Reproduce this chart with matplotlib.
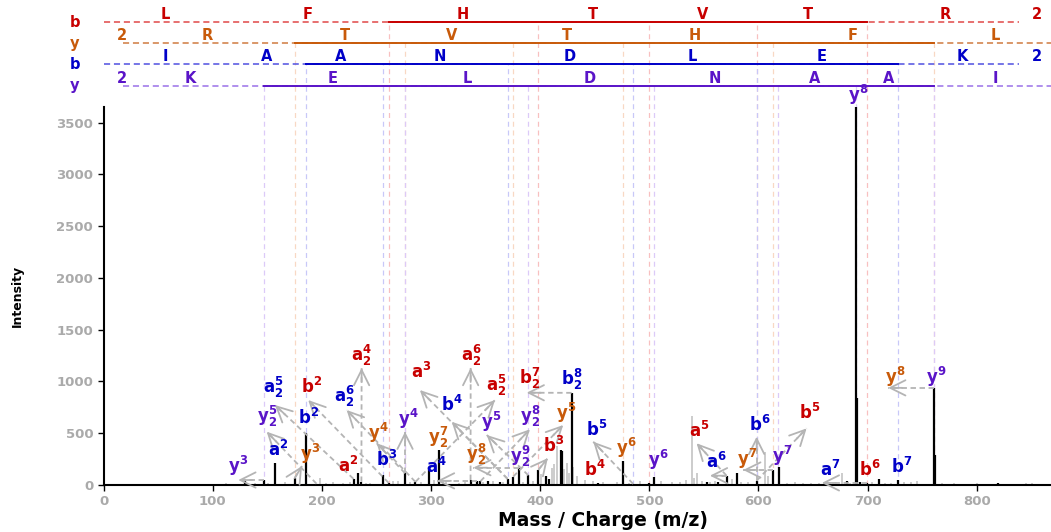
# annotated MS/MS spectrum of a cross-linked peptide pair
import matplotlib
matplotlib.use('Agg')
import matplotlib.pyplot as plt
import numpy as np

plt.rcParams['font.family'] = 'DejaVu Sans'
plt.rcParams['mathtext.fontset'] = 'dejavusans'

RED, ORANGE, BLUE, PURPLE = '#c80000', '#c85a0a', '#0000c8', '#5a14c8'
series_color = {'r': RED, 'o': ORANGE, 'b': BLUE, 'p': PURPLE}
dash_color = {'r': '#e04848', 'o': '#d07a40', 'b': '#5050e0', 'p': '#9a70e8'}
pale_color = {'r': '#f8c0c0', 'o': '#f8d8c4', 'b': '#c8c8f8', 'p': '#dccaf8'}

# matched peaks (black)
matched_mz = [129.5, 147.1, 157.1, 175.1, 185.1, 195.1, 229.1, 233.2, 236.2, 256.2,
              261.2, 276.2, 285.7, 298.4, 307.2, 323.5, 336.2, 342.2, 345.2, 352.4,
              363.0, 370.2, 375.2, 380.7, 389.2, 398.2, 405.0, 408.5, 419.0, 420.2,
              428.8, 453.2, 466.6, 476.3, 485.2, 499.3, 504.3, 552.5, 563.0, 570.8,
              580.0, 598.3, 613.3, 618.6, 680.7, 689.3, 690.5, 693.0, 699.3, 710.3,
              727.4, 760.4, 761.6, 819.6]
matched_int = [39, 48, 209, 67, 505, 12, 58, 113, 30, 96,
               20, 113, 30, 176, 337, 12, 48, 40, 35, 41,
               30, 58, 80, 167, 93, 145, 90, 55, 337, 330,
               890, 20, 10, 234, 10, 15, 80, 30, 30, 90,
               119, 41, 145, 177, 39, 3650, 836, 30, 20, 55,
               48, 938, 289, 20]

# unmatched peaks (grey)
gray_mz = [98, 112, 120, 139, 151, 166, 198, 204, 210, 219, 226, 240, 244, 265, 270,
           281, 291, 303, 311, 314, 326, 331, 348, 357, 366, 384, 393, 401, 410.5, 413,
           415, 422, 424.3, 426, 430, 434, 441, 448.6, 458, 470, 481, 491, 511, 521, 528,
           534, 538.8, 541, 543.3, 548, 556, 560, 575.4, 584, 590, 606, 609, 626, 633,
           641, 648, 655, 662, 668, 676.2, 684, 704, 716, 721, 733, 740, 745, 768, 779,
           790, 800, 812, 845, 851]
gray_int = [10, 15, 12, 20, 15, 25, 68, 20, 25, 18, 30, 20, 15, 35, 40,
            30, 25, 45, 40, 35, 20, 25, 30, 35, 25, 30, 40, 110, 164, 200,
            380, 150, 212, 120, 177, 90, 45, 40, 25, 30, 20, 35, 40, 25, 30,
            45, 666, 70, 113, 40, 30, 35, 60, 30, 25, 322, 90, 20, 25,
            15, 20, 15, 20, 15, 116, 20, 25, 20, 15, 25, 30, 35, 15, 20,
            10, 15, 10, 20, 20]

# fragment ion masses that bound the sequence coverage rows
red_ions = [261.2, 398.2, 499.3, 598.3, 699.3]
orange_ions = [175.1, 276.2, 375.2, 476.3, 613.3, 760.4]
blue_ions = [185.1, 256.2, 370.2, 485.2, 598.3, 727.4]
purple_ions = [147.1, 276.2, 389.2, 504.3, 618.3, 689.3, 760.4]

red_letters = ['L', 'F', 'H', 'T', 'V', 'T', 'R', '2']
red_letter_mz = [56.3, 187.2, 329.2, 448.4, 549.1, 645.3, 770.8, 855.0]
orange_letters = ['2', 'R', 'T', 'V', 'T', 'H', 'F', 'L']
orange_letter_mz = [16.9, 94.7, 221.1, 319.1, 424.5, 541.8, 686.5, 816.6]
blue_letters = ['I', 'A', 'A', 'N', 'D', 'L', 'E', 'K', '2']
blue_letter_mz = [56.3, 149.8, 216.7, 308.2, 427.3, 539.1, 658.2, 786.4, 855.0]
purple_letters = ['2', 'K', 'E', 'L', 'D', 'N', 'A', 'A', 'I']
purple_letter_mz = [16.9, 79.2, 210.2, 332.9, 445.6, 560.1, 651.7, 719.5, 816.6]

# peak annotations
ann_labels = ['a_2^4', 'b^2', 'a^2', 'a^3', 'a_2^6', 'a_2^5', 'b_2^7', 'b^3', 'b^4', 'a^5', 'b^5', 'b^6',
              'a^2', 'a_2^5', 'b^2', 'a_2^6', 'b^3', 'a^4', 'b^4', 'b_2^8', 'b^5', 'a^6', 'b^6', 'a^7', 'b^7',
              'y^3', 'y^4', 'y_2^7', 'y_2^8', 'y^5', 'y^6', 'y^7', 'y^8',
              'y^3', 'y_2^5', 'y^4', 'y^5', 'y_2^8', 'y_2^9', 'y^6', 'y^7', 'y^8', 'y^9']
ann_series = ['r'] * 12 + ['b'] * 13 + ['o'] * 8 + ['p'] * 10
ann_peak_mz = [236.2, 261.2, 233.2, 370.2, 336.2, 285.7, 428.8, 398.2, 453.2, 570.8, 598.3, 699.3,
               157.1, 229.1, 185.1, 285.7, 256.2, 342.2, 370.2, 428.8, 485.2, 570.8, 598.3, 699.3, 727.4,
               175.1, 276.2, 307.2, 380.7, 375.2, 476.3, 613.3, 760.4,
               147.1, 195.1, 276.2, 389.2, 345.2, 380.7, 504.3, 618.6, 689.3, 760.4]

# label placement (text centre) and arrow head, in data units
ann_text_xy = [(236.4, 1250), (190.9, 950), (223.9, 180), (291.4, 1095), (337.2, 1250), (359.5, 960),
               (390.6, 1028), (412, 375), (450.2, 150), (545.9, 520), (647.1, 700), (702.1, 150),
               (160, 342), (155.5, 942), (187.5, 652), (221.1, 855), (259.3, 246), (305.1, 170),
               (318.9, 777), (428.8, 1020), (451.7, 536), (561.7, 218), (601.3, 584), (665.4, 150),
               (731.1, 170),
               (189, 295), (251.6, 507), (306.6, 460), (341.8, 295), (424.2, 700), (479.2, 362),
               (589.1, 256), (725, 1048),
               (123.4, 180), (149.4, 662), (279.1, 633), (355.5, 604), (390.6, 662), (381.5, 276),
               (508.2, 246), (621.2, 276), (691.1, 3765), (763.2, 1048)]
ann_head_xy = [(236.4, 1130), (187.5, 820), None, (289.8, 917), (336.3, 1130), (358.6, 820),
               (387.6, 891), (407, 260), None, (543.3, 403), (644.1, 547), None,
               None, (157, 772), None, (222.7, 724), None, (305.4, 40),
               (318.9, 611), None, (448.6, 418), (555.5, 90), (598.3, 466), (658, 20),
               None,
               (181.8, 183), (250.2, 403), None, (338.7, 167), (421.1, 579), None,
               (586, 145), (718.8, 938),
               (123.4, 48), (149.4, 515), (276.2, 515), (351, 483), (390.6, 538), None,
               None, None, None, None]

W, H = 1051, 532
fig = plt.figure(figsize=(W / 100, H / 100), dpi=100)
ax = fig.add_axes([103.6 / W, 47 / H, (W - 103.6) / W, 378 / H])
ax.set_xlim(0, 868)
ax.set_ylim(0, 3650)

# sequence coverage rows above the spectrum
rows = [('r', 'b', red_ions, red_letters, red_letter_mz, 4468, (0, 839)),
        ('o', 'y', orange_ions, orange_letters, orange_letter_mz, 4265, (18, 868)),
        ('b', 'b', blue_ions, blue_letters, blue_letter_mz, 4062, (0, 839)),
        ('p', 'y', purple_ions, purple_letters, purple_letter_mz, 3856, (18, 868))]
for key, name, ions, letters, lmz, ylev, (x0, x1) in rows:
    ax.plot([x0, x1], [ylev, ylev], color=dash_color[key], lw=1.1,
            ls=(0, (4, 2.5)), clip_on=False, zorder=2)
    ax.plot([ions[0], ions[-1]], [ylev, ylev], color=series_color[key], lw=1.4,
            clip_on=False, zorder=3)
    for m in ions:
        ax.plot([m, m], [0, ylev], color=pale_color[key], lw=0.9,
                ls=(0, (4, 3)), clip_on=False, zorder=1)
    for ch, m in zip(letters, lmz):
        ax.text(m, ylev + 72, ch, color=series_color[key], fontsize=10.5,
                fontweight='bold', ha='center', va='center')
    ax.text(-26.2, ylev, name, color=series_color[key], fontsize=10.5,
            fontweight='bold', ha='center', va='center')

# peaks
ax.vlines(gray_mz, 0, gray_int, color='#c4c4c4', lw=1.2, zorder=2)
ax.vlines(matched_mz, 0, matched_int, color='black', lw=1.6, zorder=3)

# annotation arrows and labels
arrow_col = '#b4b4b4'
for lab, key, pm, txy, hxy in zip(ann_labels, ann_series, ann_peak_mz, ann_text_xy, ann_head_xy):
    pi = matched_int[int(np.argmin(np.abs(np.array(matched_mz) - pm)))]
    if hxy is not None:
        ax.plot([pm, hxy[0]], [pi, hxy[1]], color=arrow_col, lw=1.3,
                ls=(0, (3, 2)), zorder=4, clip_on=False)
        p0 = ax.transData.transform((pm, pi))
        p1 = ax.transData.transform(hxy)
        d = (p1 - p0) / np.hypot(*(p1 - p0))
        back = ax.transData.inverted().transform(p1 - 14 * d)
        ax.annotate('', xy=hxy, xytext=back,
                    arrowprops=dict(arrowstyle='->,head_length=0.5,head_width=0.25',
                                    color=arrow_col, lw=1.3, shrinkA=0, shrinkB=0,
                                    mutation_scale=22),
                    annotation_clip=False, zorder=4)
    base, _, rest = lab.partition('_')
    if rest:
        sub, sup = rest.split('^')
        tex = r'$\mathbf{%s}_{\mathbf{%s}}^{\mathbf{%s}}$' % (base, sub, sup)
    else:
        b2, sup = lab.split('^')
        tex = r'$\mathbf{%s}^{\mathbf{%s}}$' % (b2, sup)
    ax.text(txy[0], txy[1], tex, color=series_color[key], fontsize=12,
            ha='center', va='center', zorder=5, clip_on=False)

# axes styling
ax.spines['top'].set_visible(False)
ax.spines['right'].set_visible(False)
ax.spines['left'].set_linewidth(1.5)
ax.spines['bottom'].set_linewidth(1.5)
ax.set_xticks(range(0, 801, 100))
ax.set_yticks(range(0, 3501, 500))
ax.tick_params(colors='black', labelcolor='#aaaaaa', labelsize=9.5, length=4, width=1)
for t in ax.get_xticklabels() + ax.get_yticklabels():
    t.set_fontweight('bold')

fig.text(17 / W, 1 - 296 / H, 'Intensity', rotation=90, fontsize=9,
         fontweight='bold', ha='center', va='center')
fig.text(603.5 / W, 1 - 520 / H, 'Mass / Charge (m/z)', fontsize=13.5,
         fontweight='bold', ha='center', va='center')

fig.savefig('out.png', dpi=100)
